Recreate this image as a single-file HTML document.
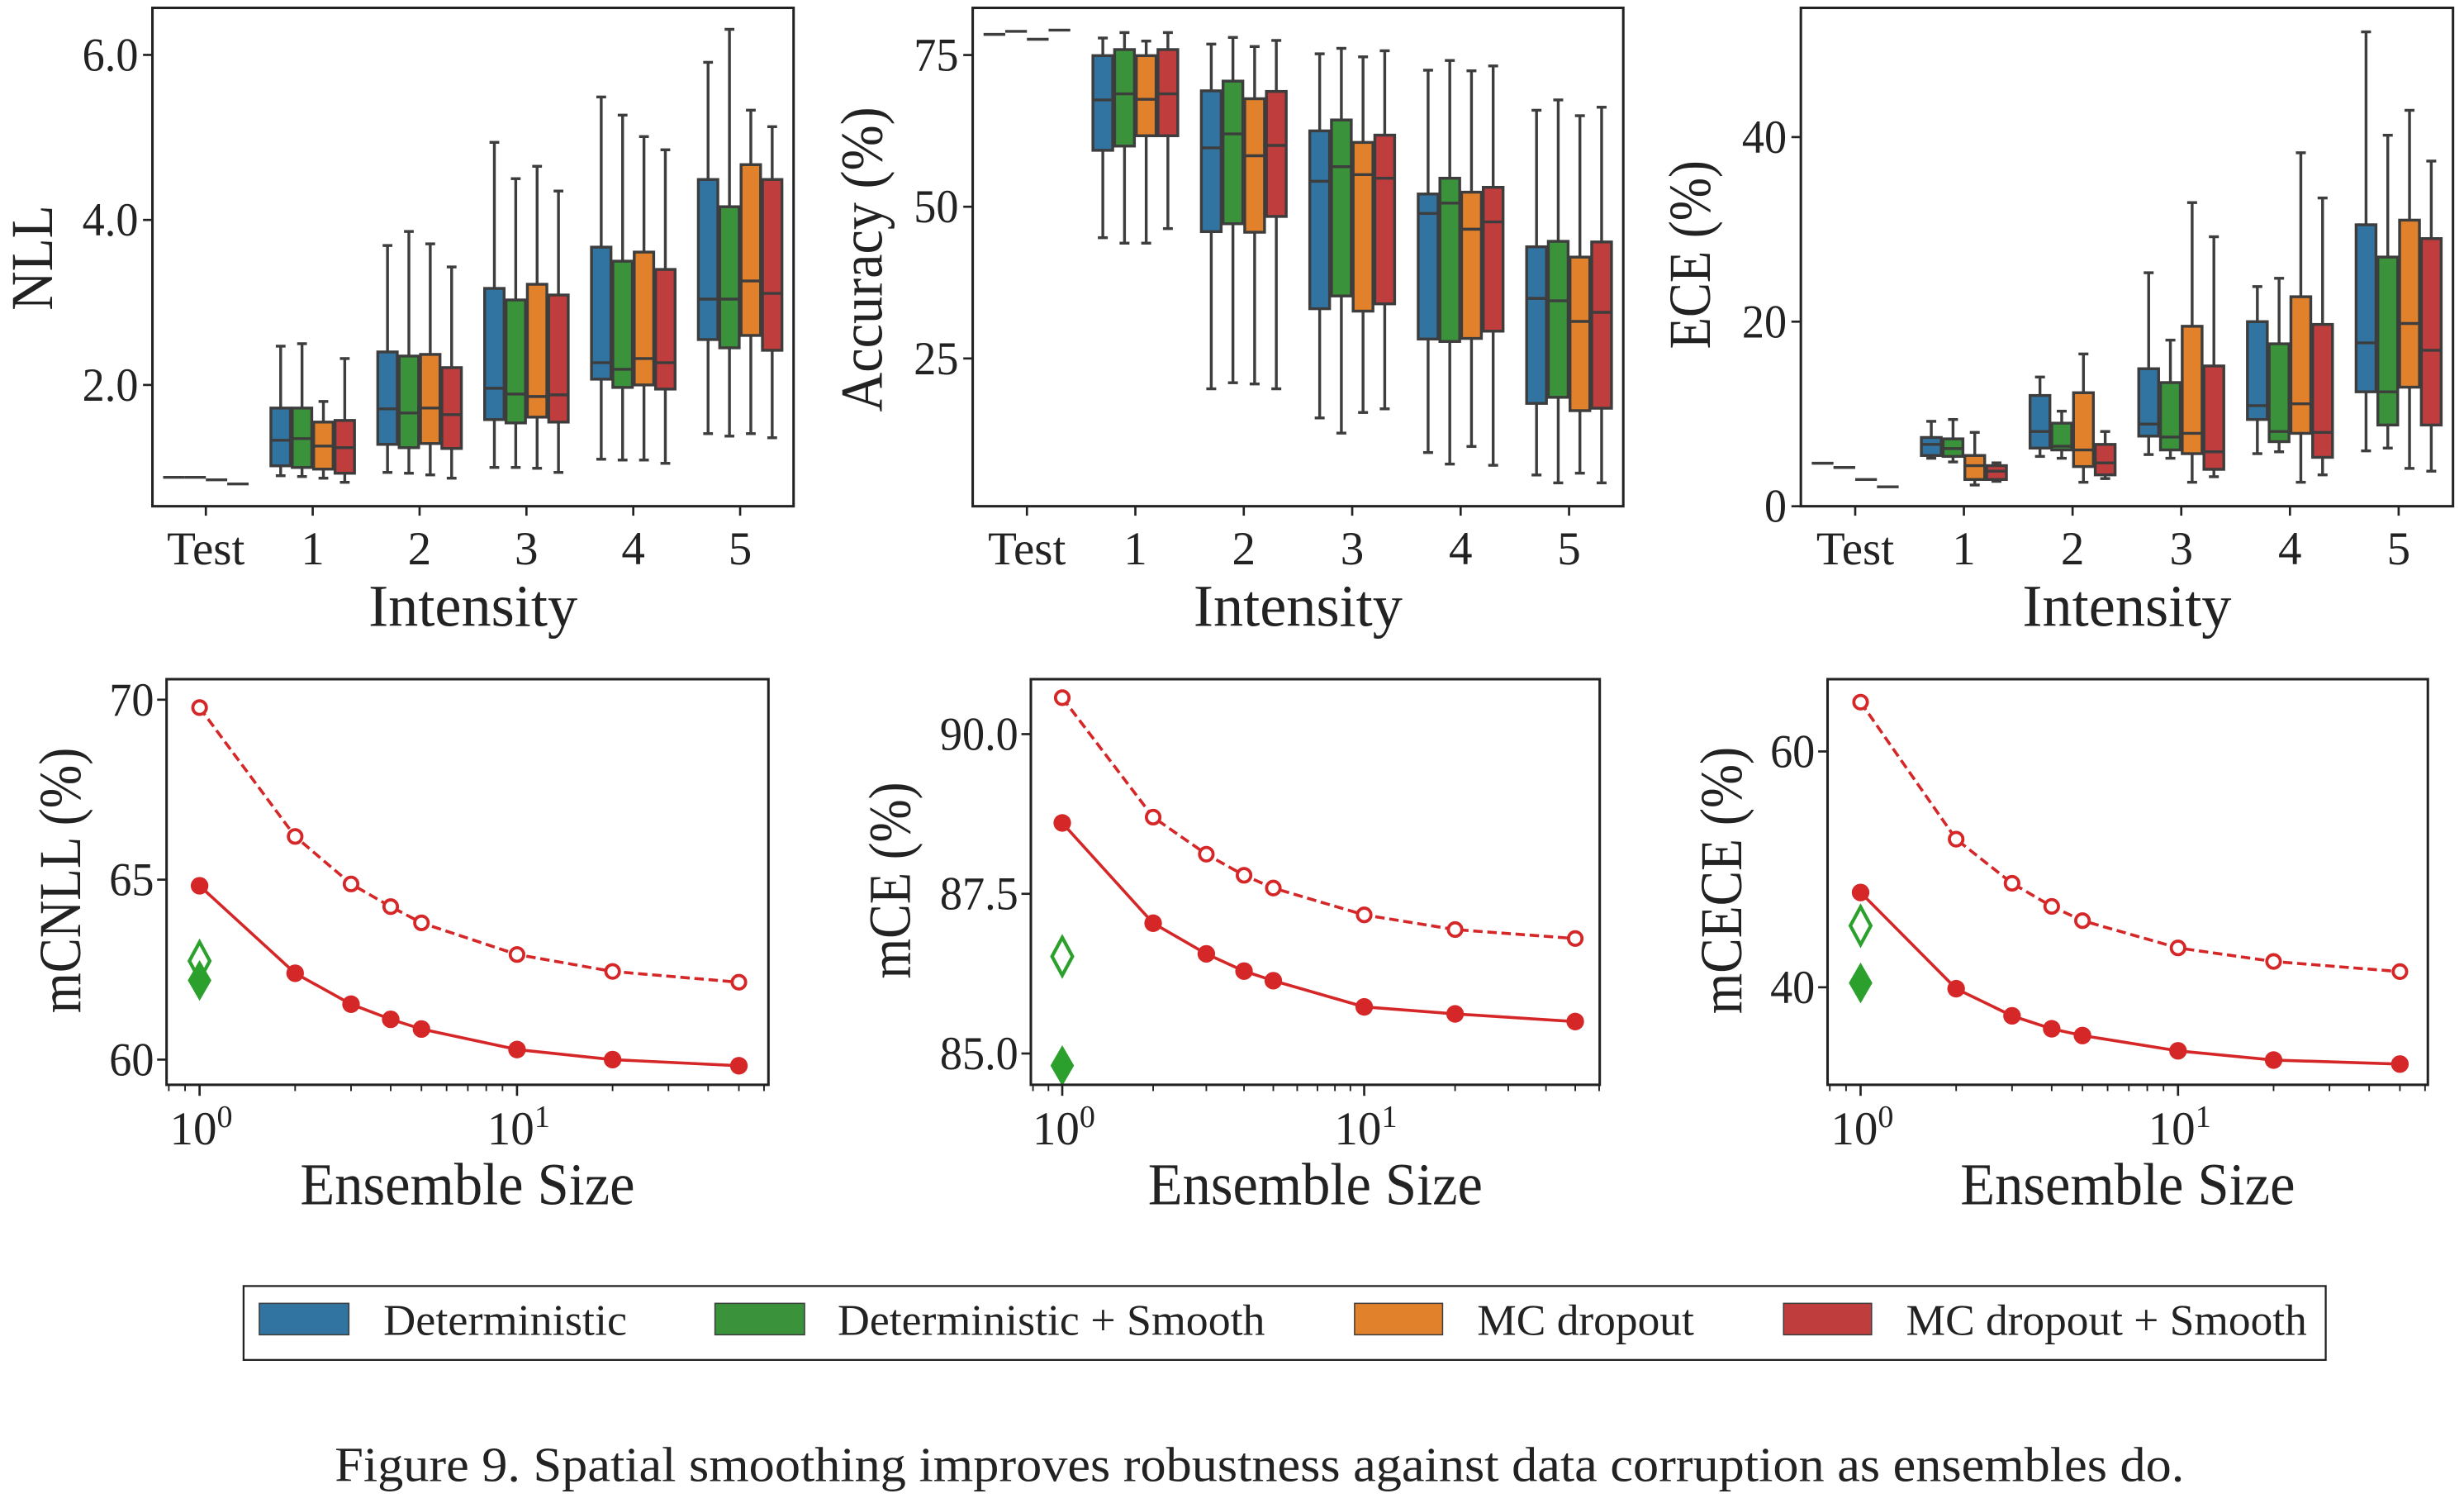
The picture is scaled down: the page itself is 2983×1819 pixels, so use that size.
<!DOCTYPE html>
<html><head><meta charset="utf-8"><style>
html,body{margin:0;padding:0;background:#fff;}
svg{display:block;}
text{font-family:"Liberation Serif",serif;fill:#222;}
</style></head><body>
<svg id="fig" xmlns="http://www.w3.org/2000/svg" width="2983" height="1819" viewBox="0 0 1568 956" preserveAspectRatio="none">
<rect x="0" y="0" width="1568" height="956" fill="#fff"/>
<g id="legend">
<rect x="155" y="818" width="1325" height="47" fill="none" stroke="#222" stroke-width="1.2"/>
<rect x="165" y="829" width="57" height="20" fill="#3274a1" stroke="#3d3d3d" stroke-width="0.8"/>
<text x="244" y="849" font-size="28" textLength="155" lengthAdjust="spacingAndGlyphs">Deterministic</text>
<rect x="455" y="829" width="57" height="20" fill="#3a923a" stroke="#3d3d3d" stroke-width="0.8"/>
<text x="533" y="849" font-size="28" textLength="272" lengthAdjust="spacingAndGlyphs">Deterministic + Smooth</text>
<rect x="862" y="829" width="56" height="20" fill="#e1812c" stroke="#3d3d3d" stroke-width="0.8"/>
<text x="940" y="849" font-size="28" textLength="138" lengthAdjust="spacingAndGlyphs">MC dropout</text>
<rect x="1135" y="829" width="56" height="20" fill="#c03d3e" stroke="#3d3d3d" stroke-width="0.8"/>
<text x="1213" y="849" font-size="28" textLength="255" lengthAdjust="spacingAndGlyphs">MC dropout + Smooth</text>
</g>
<text x="213" y="942" font-size="31" textLength="1177" lengthAdjust="spacingAndGlyphs">Figure 9. Spatial smoothing improves robustness against data corruption as ensembles do.</text>
</svg>
<script>
// ---------- data ----------
const categories = ["Test","1","2","3","4","5"];
const seriesColors = ["#3274a1","#3a923a","#e1812c","#c03d3e"];
// box stats per category: [whiskerLow, q1, median, q3, whiskerHigh]
const nllDet =       [[0.88,0.88,0.88,0.88,0.88],[0.90,1.02,1.33,1.72,2.47],[0.94,1.28,1.71,2.40,3.69],[1.00,1.58,1.96,3.17,4.94],[1.10,2.07,2.27,3.67,5.49],[1.41,2.55,3.04,4.49,5.91]];
const nllDetSmooth = [[0.88,0.88,0.88,0.88,0.88],[0.89,1.00,1.35,1.72,2.50],[0.93,1.24,1.66,2.35,3.86],[1.00,1.54,1.89,3.03,4.50],[1.09,1.97,2.19,3.50,5.27],[1.38,2.45,3.04,4.16,6.31]];
const nllMc =        [[0.85,0.85,0.85,0.85,0.85],[0.87,0.98,1.26,1.55,1.80],[0.91,1.29,1.72,2.37,3.71],[0.99,1.61,1.86,3.22,4.65],[1.09,2.00,2.32,3.61,5.01],[1.41,2.60,3.26,4.67,5.33]];
const nllMcSmooth =  [[0.80,0.80,0.80,0.80,0.80],[0.82,0.93,1.24,1.57,2.32],[0.87,1.23,1.64,2.21,3.43],[0.94,1.55,1.88,3.09,4.35],[1.05,1.95,2.27,3.40,4.85],[1.36,2.42,3.11,4.49,5.13]];
const accDet =       [[78.4,78.4,78.4,78.4,78.4],[44.9,59.3,67.6,74.9,77.8],[20.0,45.9,59.7,69.1,76.8],[15.2,33.2,54.2,62.5,75.2],[9.5,28.2,48.9,52.1,72.5],[5.8,17.6,34.9,43.4,65.9]];
const accDetSmooth = [[78.9,78.9,78.9,78.9,78.9],[44.0,60.0,68.6,75.9,78.7],[21.0,47.2,62.0,70.7,77.9],[12.7,35.3,56.6,64.3,76.1],[7.6,27.8,50.6,54.7,74.1],[4.5,18.6,34.5,44.3,67.6]];
const accMc =        [[77.6,77.6,77.6,77.6,77.6],[44.0,61.7,67.7,74.9,77.3],[20.8,45.8,58.4,67.8,76.4],[16.1,32.8,55.3,60.6,74.7],[10.5,28.3,46.3,52.4,72.4],[6.1,16.4,31.1,41.7,65.0]];
const accMcSmooth =  [[79.1,79.1,79.1,79.1,79.1],[46.4,61.7,68.6,75.9,78.7],[20.0,48.4,60.1,69.0,77.4],[16.7,34.0,54.7,61.8,75.7],[7.4,29.5,47.5,53.2,73.2],[4.5,16.8,32.6,44.2,66.4]];
const eceDet =       [[4.66,4.66,4.66,4.66,4.66],[5.2,5.5,6.7,7.45,9.2],[5.4,6.3,8.1,12.0,14.0],[5.6,7.6,8.9,14.9,25.3],[5.7,9.4,10.9,20.0,23.8],[6.0,12.4,17.7,30.5,51.4]];
const eceDetSmooth = [[4.2,4.2,4.2,4.2,4.2],[4.8,5.4,6.25,7.3,9.4],[5.2,6.1,6.5,9.0,10.3],[5.2,6.1,7.5,13.4,18.0],[5.9,7.0,8.1,17.6,24.7],[6.3,8.8,12.4,27.0,40.2]];
const eceMc =        [[2.9,2.9,2.9,2.9,2.9],[2.3,2.9,4.4,5.5,8.0],[2.6,4.3,6.1,12.3,16.5],[2.6,5.7,7.9,19.5,32.9],[2.6,7.9,11.1,22.7,38.3],[4.1,12.9,19.8,31.0,42.9]];
const eceMcSmooth =  [[2.1,2.1,2.1,2.1,2.1],[2.7,2.9,3.8,4.4,4.7],[3.0,3.4,4.7,6.7,8.1],[3.2,4.0,5.9,15.2,29.2],[3.4,5.3,8.0,19.7,33.4],[3.8,8.8,16.9,29.0,37.4]];
const nllTicks = [2.0,4.0,6.0];
const nllTickLabels = ["2.0","4.0","6.0"];
const accTicks = [25,50,75];
const accTickLabels = ["25","50","75"];
const eceTicks = [0,20,40];
const eceTickLabels = ["0","20","40"];

const ensembleSizes = [1,2,3,4,5,10,20,50];
const mcnllMcDropout = [69.78,66.2,64.88,64.25,63.8,62.92,62.45,62.15];
const mcnllMcSmooth  = [64.83,62.4,61.54,61.12,60.85,60.28,60.0,59.83];
const mcnllDet = [62.74];
const mcnllDetSmooth = [62.2];
const mceMcDropout = [90.57,88.70,88.12,87.79,87.59,87.17,86.94,86.80];
const mceMcSmooth  = [88.61,87.04,86.56,86.29,86.14,85.73,85.62,85.50];
const mceDet = [86.52];
const mceDetSmooth = [84.81];
const mceceMcDropout = [64.18,52.56,48.82,46.86,45.65,43.34,42.19,41.33];
const mceceMcSmooth  = [48.04,39.88,37.58,36.48,35.91,34.61,33.83,33.49];
const mceceDet = [45.22];
const mceceDetSmooth = [40.37];
const mcnllTicks = [60,65,70];
const mcnllTickLabels = ["60","65","70"];
const mceTicks = [85.0,87.5,90.0];
const mceTickLabels = ["85.0","87.5","90.0"];
const mceceTicks = [40,60];
const mceceTickLabels = ["40","60"];

// ---------- drawing ----------
const NS = "http://www.w3.org/2000/svg";
const svg = document.getElementById("fig");
function mk(tag, attrs, parent){
  const e = document.createElementNS(NS, tag);
  for (const k in attrs) e.setAttribute(k, attrs[k]);
  (parent||svg).appendChild(e);
  return e;
}
function condense(el, f){
  try {
    const w = el.getComputedTextLength();
    if (w > 0) { el.setAttribute("textLength", (w*f).toFixed(1)); el.setAttribute("lengthAdjust","spacingAndGlyphs"); }
  } catch(e) {}
}
function fitTo(el, w){ el.setAttribute("textLength", w); el.setAttribute("lengthAdjust","spacingAndGlyphs"); }
const EDGE = "#3d3d3d";
const TICKFS = 30;

function boxPanel(cfg){
  const g = mk("g", {});
  
  
  const {x0,x1,y0,y1,ymin,ymax} = cfg;
  const yScale = v => y1 - (v - ymin) / (ymax - ymin) * (y1 - y0);
  const step = (x1 - x0) / categories.length;
  const xCenter = i => x0 + (i + 0.5) * step;
  const bw = step * 0.8 / 4;
  cfg.ticks.forEach((t, k) => {
    const y = yScale(t);
    const tk = mk("line", {x1:x0-6, x2:x0, y1:y, y2:y, stroke:"#222", "stroke-width":1.4}, g);
    
    
    const tl = mk("text", {x:x0-9, y:y+10, "font-size":TICKFS, "text-anchor":"end"}, g);
    tl.textContent = cfg.tickLabels[k];
    
    
    condense(tl, 0.95);
  });
  categories.forEach((c, i) => {
    const x = xCenter(i);
    const tk = mk("line", {x1:x, x2:x, y1:y1, y2:y1+6, stroke:"#222", "stroke-width":1.4}, g);
    
    
    const tl = mk("text", {x:x, y:y1+37, "font-size":TICKFS, "text-anchor":"middle"}, g);
    tl.textContent = c;
    
    
    condense(tl, 1.0);
  });
  cfg.series.forEach((ser, s) => {
    ser.forEach((st, i) => {
      const cx = xCenter(i) + (s - 1.5) * bw;
      const [lo, q1, md, q3, hi] = st;
      const bg = mk("g", {}, g);
      
      
      if (q3 - q1 < 1e-9) {
        mk("line", {x1:cx-bw/2, x2:cx+bw/2, y1:yScale(md), y2:yScale(md), stroke:EDGE, "stroke-width":1.8}, bg);
        return;
      }
      const w = bw - 1.2;
      mk("line", {x1:cx, x2:cx, y1:yScale(hi), y2:yScale(q3), stroke:EDGE, "stroke-width":1.8}, bg);
      mk("line", {x1:cx, x2:cx, y1:yScale(q1), y2:yScale(lo), stroke:EDGE, "stroke-width":1.8}, bg);
      mk("line", {x1:cx-w/4, x2:cx+w/4, y1:yScale(hi), y2:yScale(hi), stroke:EDGE, "stroke-width":1.8}, bg);
      mk("line", {x1:cx-w/4, x2:cx+w/4, y1:yScale(lo), y2:yScale(lo), stroke:EDGE, "stroke-width":1.8}, bg);
      mk("rect", {x:cx-w/2, y:yScale(q3), width:w, height:yScale(q1)-yScale(q3), fill:seriesColors[s], stroke:EDGE, "stroke-width":1.8}, bg);
      mk("line", {x1:cx-w/2, x2:cx+w/2, y1:yScale(md), y2:yScale(md), stroke:EDGE, "stroke-width":1.8}, bg);
    });
  });
  const fr = mk("rect", {x:x0, y:y0, width:x1-x0, height:y1-y0, fill:"none", stroke:"#222", "stroke-width":1.6}, g);
  
  
  const xt = mk("text", {x:(x0+x1)/2, y:y1+76, "font-size":38, "text-anchor":"middle"}, g);
  xt.textContent = "Intensity";
  
  
  fitTo(xt, 133);
  const yt = mk("text", {x:0, y:0, "font-size":38, "text-anchor":"middle", transform:`translate(${cfg.ylx},${cfg.ylc}) rotate(-90)`}, g);
  yt.textContent = cfg.ylabel;
  
  
  fitTo(yt, cfg.ylw);
}

function linePanel(cfg){
  const g = mk("g", {});
  
  
  const {x0,x1,y0,y1,ymin,ymax,lmin,lmax} = cfg;
  const yScale = v => y1 - (v - ymin) / (ymax - ymin) * (y1 - y0);
  const xScale = v => x0 + (Math.log10(v) - lmin) / (lmax - lmin) * (x1 - x0);
  cfg.ticks.forEach((t, k) => {
    const y = yScale(t);
    const tk = mk("line", {x1:x0-6, x2:x0, y1:y, y2:y, stroke:"#222", "stroke-width":1.4}, g);
    
    
    const tl = mk("text", {x:x0-8, y:y+10, "font-size":TICKFS, "text-anchor":"end"}, g);
    tl.textContent = cfg.tickLabels[k];
    
    
    condense(tl, 0.95);
  });
  const minors = [0.8,0.9,2,3,4,5,6,7,8,9,20,30,40,50,60];
  minors.forEach(m => {
    const l = Math.log10(m);
    if (l < lmin || l > lmax) return;
    const x = xScale(m);
    const tk = mk("line", {x1:x, x2:x, y1:y1, y2:y1+4, stroke:"#222", "stroke-width":1}, g);
    
    
  });
  [1,10].forEach((m, k) => {
    const x = xScale(m);
    const tk = mk("line", {x1:x, x2:x, y1:y1, y2:y1+7, stroke:"#222", "stroke-width":1.4}, g);
    
    
    const tl = mk("text", {x:x-19, y:y1+38, "font-size":TICKFS}, g);
    
    
    const a = mk("tspan", {}, tl); a.textContent = "10";
    const b = mk("tspan", {dy:-11, "font-size":20}, tl); b.textContent = String(k);
    fitTo(tl, 40);
  });
  const pd = ensembleSizes.map((n,i) => xScale(n)+","+yScale(cfg.mc[i])).join(" ");
  const dl = mk("polyline", {points:pd, fill:"none", stroke:"#d62728", "stroke-width":1.9, "stroke-dasharray":"6,3"}, g);
  
  
  ensembleSizes.forEach((n,i) => {
    const c = mk("circle", {cx:xScale(n), cy:yScale(cfg.mc[i]), r:4.3, fill:"#fff", stroke:"#d62728", "stroke-width":2}, g);
    
    
  });
  const ps = ensembleSizes.map((n,i) => xScale(n)+","+yScale(cfg.mcs[i])).join(" ");
  const sl = mk("polyline", {points:ps, fill:"none", stroke:"#d62728", "stroke-width":1.9}, g);
  
  
  ensembleSizes.forEach((n,i) => {
    const c = mk("circle", {cx:xScale(n), cy:yScale(cfg.mcs[i]), r:5.6, fill:"#d62728"}, g);
    
    
  });
  const dx = xScale(ensembleSizes[0]);
  const diamond = (cy, w, h) => `${dx},${cy-h/2} ${dx+w/2},${cy} ${dx},${cy+h/2} ${dx-w/2},${cy}`;
  const d1 = mk("polygon", {points:diamond(yScale(cfg.det[0]), 13, 24), fill:"#fff", stroke:"#2ca02c", "stroke-width":2.2}, g);
  
  
  const d2 = mk("polygon", {points:diamond(yScale(cfg.dets[0]), 15, 26), fill:"#2ca02c"}, g);
  
  
  const fr = mk("rect", {x:x0, y:y0, width:x1-x0, height:y1-y0, fill:"none", stroke:"#222", "stroke-width":1.6}, g);
  
  
  const xt = mk("text", {x:(x0+x1)/2, y:y1+76, "font-size":38, "text-anchor":"middle"}, g);
  xt.textContent = "Ensemble Size";
  
  
  fitTo(xt, 213);
  const yt = mk("text", {x:0, y:0, "font-size":38, "text-anchor":"middle", transform:`translate(${cfg.ylx},${cfg.ylc}) rotate(-90)`}, g);
  yt.textContent = cfg.ylabel;
  
  
  fitTo(yt, cfg.ylw);
}

boxPanel({name:"nll-boxplot", short:"nll", x0:97, x1:505, y0:5, y1:322, ymin:0.53, ymax:6.57, ticks:nllTicks, tickLabels:nllTickLabels, series:[nllDet,nllDetSmooth,nllMc,nllMcSmooth], ylabel:"NLL", ylx:33, ylc:164, ylw:67});
boxPanel({name:"accuracy-boxplot", short:"acc", x0:619, x1:1033, y0:5, y1:322, ymin:0.65, ymax:82.77, ticks:accTicks, tickLabels:accTickLabels, series:[accDet,accDetSmooth,accMc,accMcSmooth], ylabel:"Accuracy (%)", ylx:561, ylc:165, ylw:194});
boxPanel({name:"ece-boxplot", short:"ece", x0:1146, x1:1561, y0:5, y1:322, ymin:0, ymax:54.0, ticks:eceTicks, tickLabels:eceTickLabels, series:[eceDet,eceDetSmooth,eceMc,eceMcSmooth], ylabel:"ECE (%)", ylx:1088, ylc:162, ylw:120});
linePanel({name:"mcnll-ensemble-chart", x0:106, x1:489, y0:432, y1:690, ymin:59.30, ymax:70.57, lmin:-0.104, lmax:1.792, ticks:mcnllTicks, tickLabels:mcnllTickLabels, mc:mcnllMcDropout, mcs:mcnllMcSmooth, det:mcnllDet, dets:mcnllDetSmooth, ylabel:"mCNLL (%)", ylx:51, ylc:560, ylw:169});
linePanel({name:"mce-ensemble-chart", x0:656, x1:1018, y0:432, y1:690, ymin:84.51, ymax:90.86, lmin:-0.104, lmax:1.78, ticks:mceTicks, tickLabels:mceTickLabels, mc:mceMcDropout, mcs:mceMcSmooth, det:mceDet, dets:mceDetSmooth, ylabel:"mCE (%)", ylx:579, ylc:560, ylw:125});
linePanel({name:"mcece-ensemble-chart", x0:1163, x1:1545, y0:432, y1:690, ymin:31.73, ymax:66.13, lmin:-0.104, lmax:1.787, ticks:mceceTicks, tickLabels:mceceTickLabels, mc:mceceMcDropout, mcs:mceceMcSmooth, det:mceceDet, dets:mceceDetSmooth, ylabel:"mCECE (%)", ylx:1108, ylc:560, ylw:170});
</script>
</body></html>
